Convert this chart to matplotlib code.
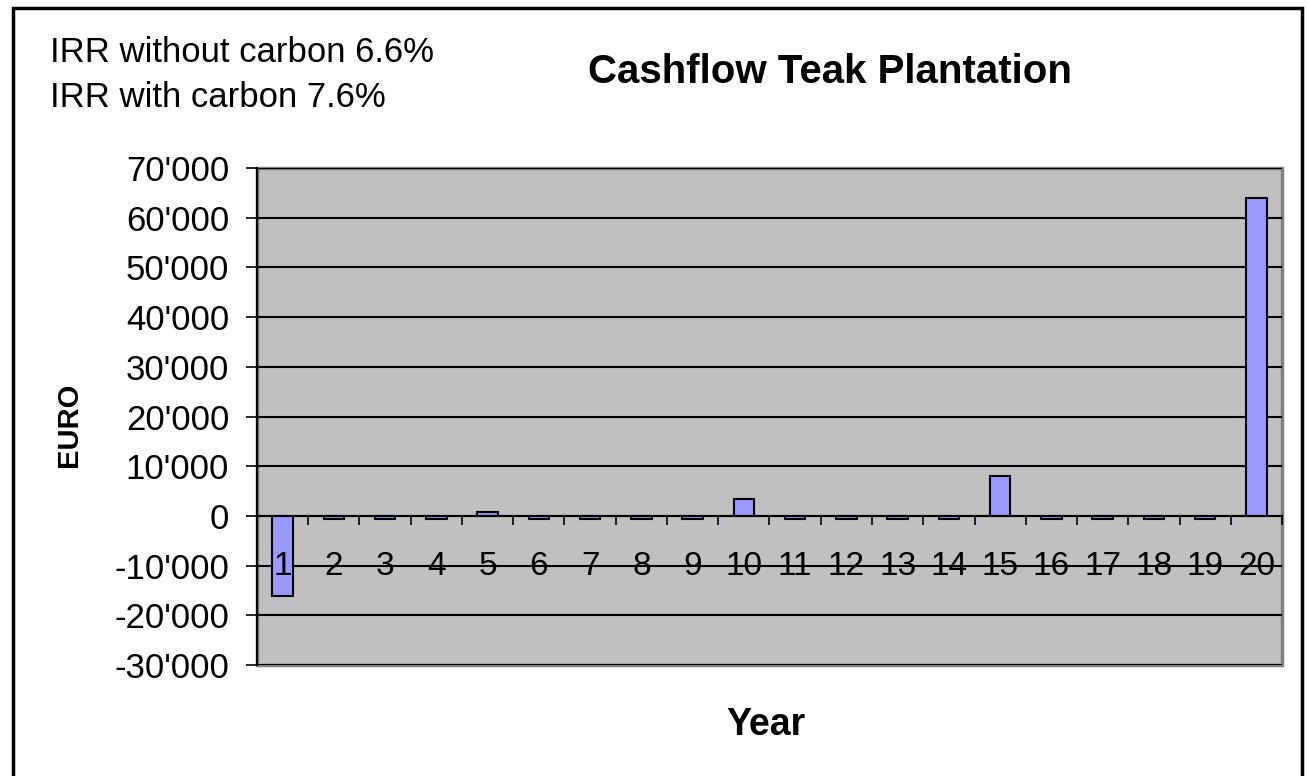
# plot.py

import numpy as np
import matplotlib.pyplot as plt
from matplotlib.patches import Rectangle
from matplotlib.ticker import FuncFormatter, FixedLocator

plt.rcParams['font.family'] = ['Liberation Sans', 'DejaVu Sans']

# -----------------------------
# Data
# -----------------------------
years = list(range(1, 21))
cashflow = [-16200, -700, -700, -700, 700, -700, -700, -700, -700, 3400,
            -700, -700, -700, -700, 8100, -700, -700, -700, -700, 64000]
y_ticks = [-30000, -20000, -10000, 0, 10000, 20000, 30000, 40000, 50000, 60000, 70000]
irr_lines = ["IRR without carbon 6.6%", "IRR with carbon 7.6%"]

# -----------------------------
# Figure
# -----------------------------
fig = plt.figure(figsize=(13.09, 7.76), dpi=100)
ax = fig.add_axes([0.1963, 0.1430, 0.7831, 0.6405])

ax.bar(years, cashflow, width=0.4, color='#9999FF', edgecolor='black', linewidth=1.5, zorder=1)

ax.set_xlim(0.5, 20.5)
ax.set_ylim(-30000, 70000)
ax.set_facecolor('#C0C0C0')
ax.patch.set_edgecolor('#808080')
ax.patch.set_linewidth(2.5)

# gridlines below bars, category labels above
ax.set_axisbelow(True)
ax.xaxis.set_zorder(3)
ax.yaxis.grid(True, color='black', linewidth=1.5)

ax.set_yticks(y_ticks)
ax.yaxis.set_major_formatter(FuncFormatter(lambda v, p: f"{v:,.0f}".replace(',', "'")))
ax.tick_params(axis='y', direction='out', length=8, width=1.2, pad=12, labelsize=25)

# category axis at zero
ax.spines['bottom'].set_position(('data', 0))
ax.spines['bottom'].set_linewidth(1.5)
ax.spines['left'].set_linewidth(1.5)
ax.spines['top'].set_visible(False)
ax.spines['right'].set_visible(False)
ax.xaxis.set_major_locator(FixedLocator(np.arange(0.5, 21, 1)))
ax.xaxis.set_major_formatter(FuncFormatter(lambda v, p: ''))
ax.xaxis.set_minor_locator(FixedLocator(years))
ax.xaxis.set_minor_formatter(FuncFormatter(lambda v, p: f"{int(round(v))}"))
ax.tick_params(axis='x', which='major', direction='out', length=6.5, width=1.2)
ax.tick_params(axis='x', which='minor', length=0, pad=25, labelsize=24)

fig.text(0.053, 0.452, 'EURO', fontsize=21, fontweight='bold', rotation=90,
         ha='center', va='center')
fig.text(0.585, 0.066, 'Year', fontsize=27, fontweight='bold', ha='center', va='center')

fig.text(0.634, 0.907, 'Cashflow Teak Plantation', fontsize=29, fontweight='bold',
         ha='center', va='center')
fig.text(0.038, 0.932, irr_lines[0], fontsize=25, ha='left', va='center')
fig.text(0.038, 0.874, irr_lines[1], fontsize=25, ha='left', va='center')

# outer chart border
fig.patches.append(Rectangle((0.0099, -0.05), 0.9848, 1.0397, transform=fig.transFigure,
                             fill=False, edgecolor='black', linewidth=2.5))

plt.savefig('out.png', dpi=100)
